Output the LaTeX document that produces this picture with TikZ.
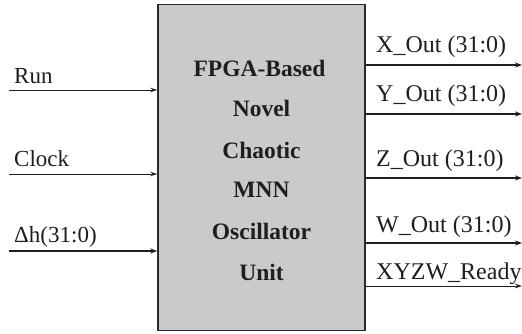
\documentclass[tikz,border=0pt]{standalone}
\usepackage{fontspec}
\setmainfont{Liberation Serif}
\usetikzlibrary{arrows.meta}
\definecolor{boxfill}{HTML}{C9CACC}
\definecolor{boxline}{HTML}{2A2A2A}
\definecolor{ink}{HTML}{1E1E1E}
\begin{document}
\begin{tikzpicture}[x=1pt,y=-1pt,
  lbl/.style={anchor=base west,inner sep=0pt,font=\fontsize{23}{24}\selectfont,text=ink},
  olbl/.style={lbl,font=\fontsize{24}{25}\selectfont},
  ttl/.style={anchor=base,inner sep=0pt,font=\fontsize{23.5}{24}\selectfont\bfseries,text=ink},
  thinsig/.style={draw=ink,line width=0.9pt,-{Stealth[length=7pt,width=4.5pt]}},
  thicksig/.style={draw=ink,line width=1.9pt,-{Stealth[length=7pt,width=5pt]}}]
\useasboundingbox (0,0) rectangle (522,334);
\node[draw=boxline,fill=boxfill,line width=1.4pt,minimum width=207pt,minimum height=326pt,inner sep=0pt] (box) at (261.5,167.5) {};
% title lines
\node[ttl] (t1) at (259.5,77) {FPGA-Based};
\node[ttl] (t2) at (261.5,117) {Novel};
\node[ttl] (t3) at (261.5,158) {Chaotic};
\node[ttl] (t4) at (261.5,197) {MNN};
\node[ttl] (t5) at (261.5,239) {Oscillator};
\node[ttl] (t6) at (261.5,280) {Unit};
% inputs
\coordinate (i1) at (9,90);
\coordinate (i2) at (9,174);
\coordinate (i3) at (9,251);
\node[lbl] (l1) at (14,84) {Run};
\node[lbl] (l2) at (14,166) {Clock};
\node[lbl] (l3) at (14,242) {Δh(31:0)};
\draw[thinsig] (i1) -- (box.west |- i1);
\draw[thinsig] (i2) -- (box.west |- i2);
\draw[thicksig] (i3) -- (box.west |- i3);
% outputs
\coordinate (o1) at (522,65);
\coordinate (o2) at (522,114);
\coordinate (o3) at (522,178);
\coordinate (o4) at (522,243);
\coordinate (o5) at (522,286);
\node[olbl] (r1) at (376,53) {X\_Out (31:0)};
\node[olbl] (r2) at (376,102) {Y\_Out (31:0)};
\node[olbl] (r3) at (376,167) {Z\_Out (31:0)};
\node[olbl] (r4) at (376,232) {W\_Out (31:0)};
\node[olbl] (r5) at (376,279) {XYZW\_Ready};
\draw[thicksig] (box.east |- o1) -- (o1);
\draw[thicksig] (box.east |- o2) -- (o2);
\draw[thicksig] (box.east |- o3) -- (o3);
\draw[thicksig] (box.east |- o4) -- (o4);
\draw[thinsig] (box.east |- o5) -- (o5);
\end{tikzpicture}
\end{document}
